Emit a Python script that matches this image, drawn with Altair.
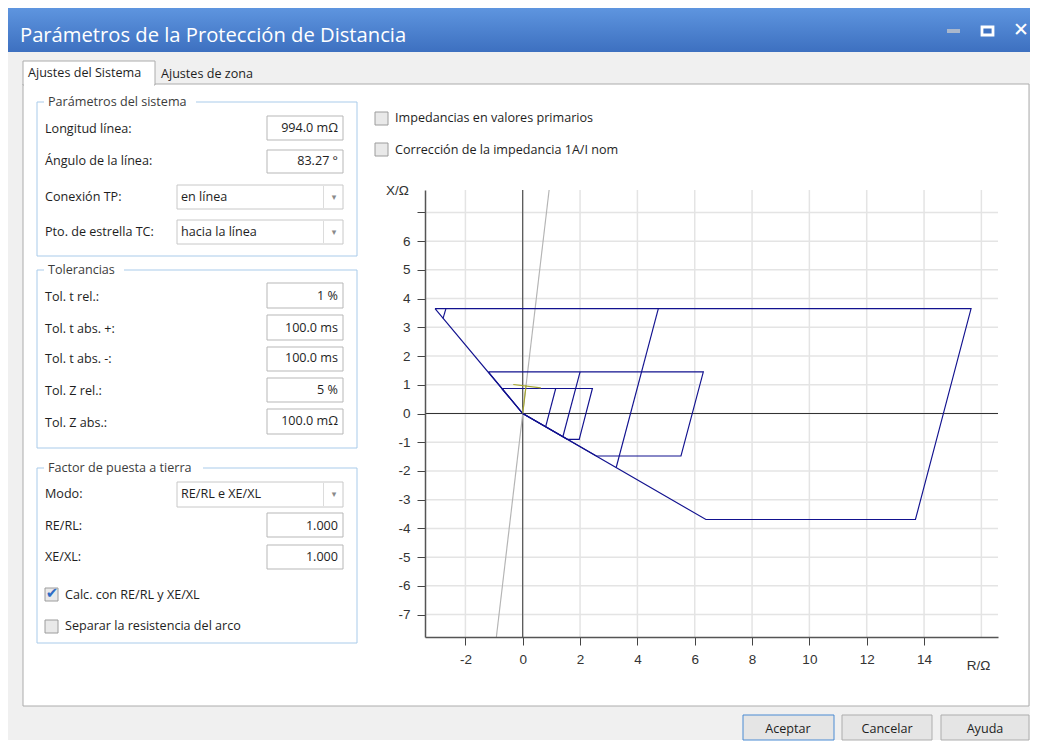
import altair as alt
import pandas as pd

# ---------------- R/X diagram values (ohm) ----------------
r_domain = [-3.41, 16.58]
x_domain = [-7.78, 7.78]
r_ticks = [-2, 0, 2, 4, 6, 8, 10, 12, 14]
r_grid = [-2, 0, 2, 4, 6, 8, 10, 12, 14, 16]
x_ticks = [-7, -6, -5, -4, -3, -2, -1, 0, 1, 2, 3, 4, 5, 6, 7]

# zone 3 (phase-earth, large quadrilateral)
z3_pe_r = [-3.06, 15.64, 13.70, 6.39, 0.0, -3.06]
z3_pe_x = [3.65, 3.65, -3.69, -3.69, 0.0, 3.65]
# zone 3 (phase-phase, resistive limit)
z3_pp_r = [4.73, 3.26]
z3_pp_x = [3.65, -1.88]
# zone 3 left limit stub
z3_lf_r = [-2.68, -2.78]
z3_lf_x = [3.65, 3.31]
# zone 2
z2_pe_r = [-1.20, 6.30, 5.52, 2.57, 0.0, -1.20]
z2_pe_x = [1.45, 1.45, -1.48, -1.48, 0.0, 1.45]
z2_pp_r = [2.00, 1.40]
z2_pp_x = [1.45, -0.81]
# zone 1
z1_pe_r = [-0.73, 2.43, 1.97, 1.56, 0.0, -0.73]
z1_pe_x = [0.87, 0.87, -0.90, -0.90, 0.0, 0.87]
z1_pp_r = [1.15, 0.80]
z1_pp_x = [0.87, -0.46]
# line angle 83.27 deg (grey) and line impedance 994 mOhm (olive)
ang_r = [-0.92, 0.92]
ang_x = [-7.78, 7.78]
lz_r = [0.0, 0.117]
lz_x = [0.0, 0.987]
lend_r = [-0.33, 0.63]
lend_x = [1.01, 0.89]

segments = [
    ("angle", ang_r, ang_x, "angle"),
    ("z3pe", z3_pe_r, z3_pe_x, "zone"),
    ("z3pp", z3_pp_r, z3_pp_x, "zone"),
    ("z3lf", z3_lf_r, z3_lf_x, "zone"),
    ("z2pe", z2_pe_r, z2_pe_x, "zone"),
    ("z2pp", z2_pp_r, z2_pp_x, "zone"),
    ("z1pe", z1_pe_r, z1_pe_x, "zone"),
    ("z1pp", z1_pp_r, z1_pp_x, "zone"),
    ("lz", lz_r, lz_x, "linez"),
    ("lend", lend_r, lend_x, "linez"),
]
rows = []
for name, rs, xs, kind in segments:
    for i, (r, x) in enumerate(zip(rs, xs)):
        rows.append({"seg": name, "o": i, "R": r, "X": x, "kind": kind})
lines_df = pd.DataFrame(rows)

# ---------------- layout (page pixels) ----------------
PX0, PY0 = 425, 190          # plot area top-left in page
W, H = 573, 447              # plot area size

def rect(x1, y1, x2, y2, fill, stroke="transparent", sw=0):
    return {"x1": x1 - PX0, "y1": y1 - PY0, "x2": x2 - PX0, "y2": y2 - PY0,
            "fill": fill, "stroke": stroke, "sw": sw}

FS = 12.6

def txt(x, y, t, c="#1e1e1e", s=FS):
    return {"x": x - PX0, "y": y - PY0, "t": t, "c": c, "s": s}

BOX = "#b7b7b7"
GRP = "#a9cbea"
ui_rects = [
    rect(8, 8, 1030, 740, "#f0f0f0"),
    rect(23, 84, 1029, 706, "#ffffff", "#acacac", 1),
    rect(23, 61, 155, 85, "#ffffff", "#acacac", 1),
    rect(24, 83, 154, 86, "#ffffff"),
    rect(37, 102, 357, 256, "transparent", GRP, 1),
    rect(37, 270, 357, 448, "transparent", GRP, 1),
    rect(37, 468, 357, 643, "transparent", GRP, 1),
    rect(44, 95, 196, 109, "#ffffff"),
    rect(44, 263, 124, 277, "#ffffff"),
    rect(44, 461, 203, 475, "#ffffff"),
    rect(267, 116, 343, 140, "#ffffff", BOX, 1),
    rect(267, 150, 343, 173, "#ffffff", BOX, 1),
    rect(267, 283, 343, 308, "#ffffff", BOX, 1),
    rect(267, 315, 343, 340, "#ffffff", BOX, 1),
    rect(267, 347, 343, 371, "#ffffff", BOX, 1),
    rect(267, 378, 343, 402, "#ffffff", BOX, 1),
    rect(267, 409, 343, 434, "#ffffff", BOX, 1),
    rect(267, 513, 343, 537, "#ffffff", BOX, 1),
    rect(267, 545, 343, 569, "#ffffff", BOX, 1),
    rect(177, 185, 343, 209, "#ffffff", "#c8c8c8", 1),
    rect(177, 220, 343, 244, "#ffffff", "#c8c8c8", 1),
    rect(177, 482, 343, 507, "#ffffff", "#c8c8c8", 1),
    rect(323, 186, 324, 208, "#dcdcdc"),
    rect(323, 221, 324, 243, "#dcdcdc"),
    rect(323, 483, 324, 506, "#dcdcdc"),
    rect(375, 112, 388, 125, "#e9e9e9", "#9c9c9c", 1),
    rect(375, 143, 388, 156, "#e9e9e9", "#9c9c9c", 1),
    rect(45, 588, 58, 601, "#e9e9e9", "#9c9c9c", 1),
    rect(45, 620, 58, 633, "#e9e9e9", "#9c9c9c", 1),
    rect(743, 715, 834, 740, "#e5e5e5", "#4b8bd3", 1),
    rect(842, 715, 932, 740, "#e5e5e5", "#adadad", 1),
    rect(941, 715, 1029, 740, "#e5e5e5", "#adadad", 1),
]
ctl_rects = [
    rect(947, 29, 960, 33, "#a9b7cc"),
    rect(982, 27, 993, 35, "#3e72c2", "#ffffff", 2.8),
]

ui_left = [
    txt(28, 73, "Ajustes del Sistema"),
    txt(161, 74, "Ajustes de zona"),
    txt(48, 102, "Parámetros del sistema", "#3c3c3c"),
    txt(48, 270, "Tolerancias", "#3c3c3c"),
    txt(48, 468, "Factor de puesta a tierra", "#3c3c3c"),
    txt(45, 129, "Longitud línea:"),
    txt(45, 161, "Ángulo de la línea:"),
    txt(45, 197, "Conexión TP:"),
    txt(45, 232, "Pto. de estrella TC:"),
    txt(45, 297, "Tol. t rel.:"),
    txt(45, 329, "Tol. t abs. +:"),
    txt(45, 359, "Tol. t abs. -:"),
    txt(45, 391, "Tol. Z rel.:"),
    txt(45, 423, "Tol. Z abs.:"),
    txt(45, 494, "Modo:"),
    txt(45, 526, "RE/RL:"),
    txt(45, 557, "XE/XL:"),
    txt(181, 197, "en línea"),
    txt(181, 232, "hacia la línea"),
    txt(181, 494, "RE/RL e XE/XL"),
    txt(65, 595, "Calc. con RE/RL y XE/XL"),
    txt(65, 626, "Separar la resistencia del arco"),
    txt(395, 118, "Impedancias en valores primarios"),
    txt(395, 150, "Corrección de la impedancia 1A/I nom"),
]
ui_right = [
    txt(338, 128, "994.0 mΩ"),
    txt(338, 161, "83.27 °"),
    txt(338, 296, "1 %"),
    txt(338, 328, "100.0 ms"),
    txt(338, 358, "100.0 ms"),
    txt(338, 390, "5 %"),
    txt(338, 421, "100.0 mΩ"),
    txt(338, 526, "1.000"),
    txt(338, 557, "1.000"),
]
ui_center = [
    txt(788, 729, "Aceptar"),
    txt(887, 729, "Cancelar"),
    txt(985, 729, "Ayuda"),
]
ui_symbols = [
    txt(334, 197, "▾", "#8a8a8a", 9),
    txt(334, 232, "▾", "#8a8a8a", 9),
    txt(334, 494, "▾", "#8a8a8a", 9),
    txt(52, 593, "✔", "#2f6cc4", 15),
    txt(1021, 30, "✕", "#ffffff", 19),
]
title_txt = [txt(20, 36, "Parámetros de la Protección de Distancia", "#ffffff", 20.2)]

# ---------------- chart ----------------
xs = alt.Scale(domain=r_domain, nice=False, zero=False)
ys = alt.Scale(domain=x_domain, nice=False, zero=False)
AX = dict(grid=False, domainColor="#555555", domainWidth=1.5, tickColor="#444444",
          tickSize=8, tickWidth=1, labelFont="Liberation Sans", labelFontSize=13.5,
          labelColor="#333333", labelPadding=7, titleFont="Liberation Sans",
          titleFontSize=13.5, titleFontWeight="normal", titleColor="#333333",
          titleAlign="center", titleBaseline="middle", zindex=1,
          labelFlush=False, labelOverlap=False)
x_axis = alt.Axis(values=r_ticks, title="R/Ω", titleX=553, titleY=28,
                  labelExpr="'' + datum.value", **AX)
y_axis = alt.Axis(values=x_ticks, title="X/Ω", titleAngle=0, titleX=-28, titleY=0,
                  labelExpr="datum.value == 7 ? '' : '' + datum.value", **AX)

def XE(field):
    return alt.X(field, type="quantitative", scale=xs, axis=x_axis)

def YE(field):
    return alt.Y(field, type="quantitative", scale=ys, axis=y_axis)

px = lambda f: alt.X(f, type="quantitative", scale=None)
py = lambda f: alt.Y(f, type="quantitative", scale=None)

rect_layer = alt.Chart(pd.DataFrame(ui_rects)).mark_rect().encode(
    x=px("x1"), x2="x2", y=py("y1"), y2="y2",
    fill=alt.Fill("fill:N", scale=None),
    stroke=alt.Stroke("stroke:N", scale=None),
    strokeWidth=alt.StrokeWidth("sw:Q", scale=None),
)
title_bar = alt.Chart(pd.DataFrame([{"a": 1}])).mark_rect(
    color=alt.LinearGradient(gradient="linear",
                             stops=[alt.GradientStop(color="#5e95df", offset=0),
                                    alt.GradientStop(color="#3d70c0", offset=1)],
                             x1=0, x2=0, y1=0, y2=1)
).encode(x=alt.value(8 - PX0), x2=alt.value(1030 - PX0),
         y=alt.value(8 - PY0), y2=alt.value(52 - PY0))
ctl_layer = alt.Chart(pd.DataFrame(ctl_rects)).mark_rect().encode(
    x=px("x1"), x2="x2", y=py("y1"), y2="y2",
    fill=alt.Fill("fill:N", scale=None),
    stroke=alt.Stroke("stroke:N", scale=None),
    strokeWidth=alt.StrokeWidth("sw:Q", scale=None),
)

def text_layer(items, align, font, weight="normal"):
    return alt.Chart(pd.DataFrame(items)).mark_text(
        align=align, baseline="middle", font=font, fontWeight=weight
    ).encode(x=px("x"), y=py("y"), text="t:N",
             color=alt.Color("c:N", scale=None),
             size=alt.Size("s:Q", scale=None))

grid_v = alt.Chart(pd.DataFrame({"v": r_grid})).mark_rule(
    color="#e4e4e4", strokeWidth=1.5).encode(x=XE("v"), y=alt.value(0), y2=alt.value(H))
grid_h = alt.Chart(pd.DataFrame({"v": x_ticks})).mark_rule(
    color="#e4e4e4", strokeWidth=1.5).encode(y=YE("v"), x=alt.value(0), x2=alt.value(W))
zero_v = alt.Chart(pd.DataFrame({"v": [0]})).mark_rule(
    color="#333333", strokeWidth=1).encode(x=XE("v"), y=alt.value(0), y2=alt.value(H))
zero_h = alt.Chart(pd.DataFrame({"v": [0]})).mark_rule(
    color="#333333", strokeWidth=1).encode(y=YE("v"), x=alt.value(0), x2=alt.value(W))

lines = alt.Chart(lines_df).mark_line(strokeWidth=1.15).encode(
    x=XE("R"), y=YE("X"), detail="seg:N", order="o:Q",
    color=alt.Color("kind:N", legend=None,
                    scale=alt.Scale(domain=["angle", "zone", "linez"],
                                    range=["#b4b4b4", "#12128f", "#a5a52c"])),
)

chart = alt.layer(
    rect_layer, title_bar, ctl_layer,
    grid_v, grid_h, zero_v, zero_h, lines,
    text_layer(ui_left, "left", "Open Sans"),
    text_layer(ui_right, "right", "Open Sans"),
    text_layer(ui_center, "center", "Open Sans"),
    text_layer(ui_symbols, "center", "DejaVu Sans", "bold"),
    text_layer(title_txt, "left", "Open Sans"),
).resolve_scale(color="independent").properties(
    width=W, height=H, padding=0, background="#ffffff"
).configure_view(strokeWidth=0)

chart.save("out.html", embed_options={"renderer": "svg", "actions": False})
